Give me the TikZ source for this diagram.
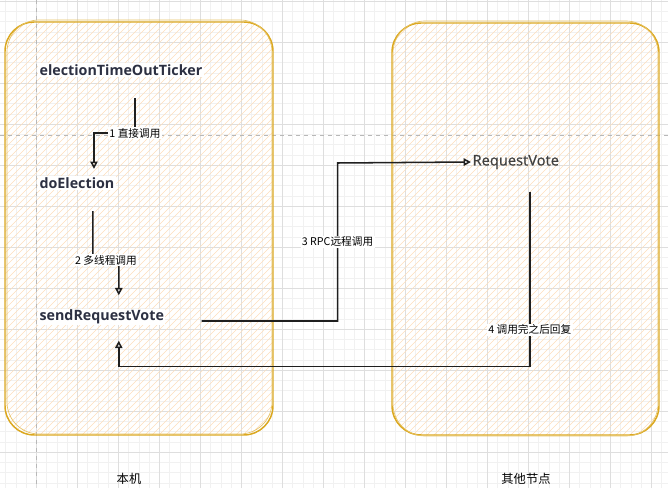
\documentclass[tikz,border=0pt]{standalone}
\usepackage{fontspec}
\setmainfont{Open Sans}
\newfontfamily\cjk{Noto Sans CJK SC}
\newfontfamily\semibold{Open Sans}[FakeBold=0.6]
\usetikzlibrary{arrows.meta,calc}

\definecolor{gridmajor}{RGB}{222,222,222}
\definecolor{gridminor}{RGB}{241,241,241}
\definecolor{hoststroke}{RGB}{219,168,32}
\definecolor{hosthatch}{RGB}{252,222,188}
\definecolor{nametext}{RGB}{44,48,66}

\tikzset{
  majorgrid/.style={draw=gridmajor, line width=0.6pt},
  minorgrid/.style={draw=gridminor, line width=0.5pt},
  pagebreak/.style={draw=black!28, dashed, line width=0.6pt},
  hostbox/.style={draw=hoststroke, line width=1.1pt, rounded corners=22pt},
  hostsketch/.style={draw=hoststroke!70, line width=0.5pt, rounded corners=24pt},
  hatch/.style={draw=hosthatch, line width=0.5pt},
  func/.style={anchor=west, fill=white, inner sep=1pt, text=nametext,
    font=\bfseries\fontsize{10.7}{12}\selectfont},
  remote/.style={anchor=west, inner sep=1pt, text=black!75,
    font=\semibold\fontsize{11}{13}\selectfont},
  lbl/.style={fill=white, inner sep=1pt, font=\cjk\fontsize{8}{10}\selectfont},
  host/.style={font=\cjk\fontsize{9.2}{11}\selectfont},
  call/.style={draw=black!88, line width=1.15pt, -{Triangle[open,length=5.5pt,width=5.5pt]}},
}

\begin{document}
\begin{tikzpicture}[x=0.75pt,y=0.75pt,yscale=-1,xscale=1]
\useasboundingbox (0,0) rectangle (668,488);

% grid
\foreach \i in {0,...,66} \draw[minorgrid] ({-4.5+10.25*\i},0) -- ++(0,488);
\foreach \j in {0,...,47} \draw[minorgrid] (0,{1.3+10.25*\j}) -- ++(668,0);
\foreach \i in {0,...,16} \draw[majorgrid] ({-4.5+41*\i},0) -- ++(0,488);
\foreach \j in {0,...,11} \draw[majorgrid] (0,{1.3+41*\j}) -- ++(668,0);

% hosts
\begin{scope}
\clip[rounded corners=22pt] (5,22) rectangle (273,435);
\foreach \k in {-420,-413,...,280} \draw[hatch] (\k,440) -- ++(420,-420);
\end{scope}
\begin{scope}
\clip[rounded corners=22pt] (392,23) rectangle (659,435);
\foreach \k in {-40,-33,...,665} \draw[hatch] (\k,440) -- ++(420,-420);
\end{scope}
\draw[pagebreak] (36.5,0) -- (36.5,488);
\draw[pagebreak] (0,135) -- (668,135);
\draw[hostbox] (5,22) rectangle (273,435);
\draw[hostsketch] (7,20) rectangle (272,434);
\draw[hostbox] (392,23) rectangle (659,435);
\draw[hostsketch] (393,21) rectangle (658,436);

\node[host] (local) at (129,479) {本机};
\node[host] (other) at (526,479) {其他节点};

% functions
\node[func] (ticker) at (38,70) {electionTimeOutTicker};
\node[func] (elect) at (38,183) {doElection};
\node[func] (send) at (38,317) {sendRequestVote};
\node[remote] (vote) at (471,162) {RequestVote};

% calls
\draw[call] ($(ticker.south)+(14,21)$) -- ++(0,35) node[lbl] {1 直接调用} -| ($(elect.north)+(17,-7)$);
\draw[call] ($(elect.south)+(16,21)$) -- ++(0,49) -- node[lbl] {2 多线程调用} ++(26,0) -- ($(send.north)+(17,-13)$);
\draw[call] ($(send.east)+(36,4)$) -- ++(136,0) -- node[lbl] {3 RPC远程调用} ++(0,-158) -- (vote.west);
\draw[call] ($(vote.south)+(14,21)$) -- node[lbl, pos=0.79] {4 调用完之后回复} ++(0,175) -| ($(send.south)+(17,15)$);
\end{tikzpicture}
\end{document}
